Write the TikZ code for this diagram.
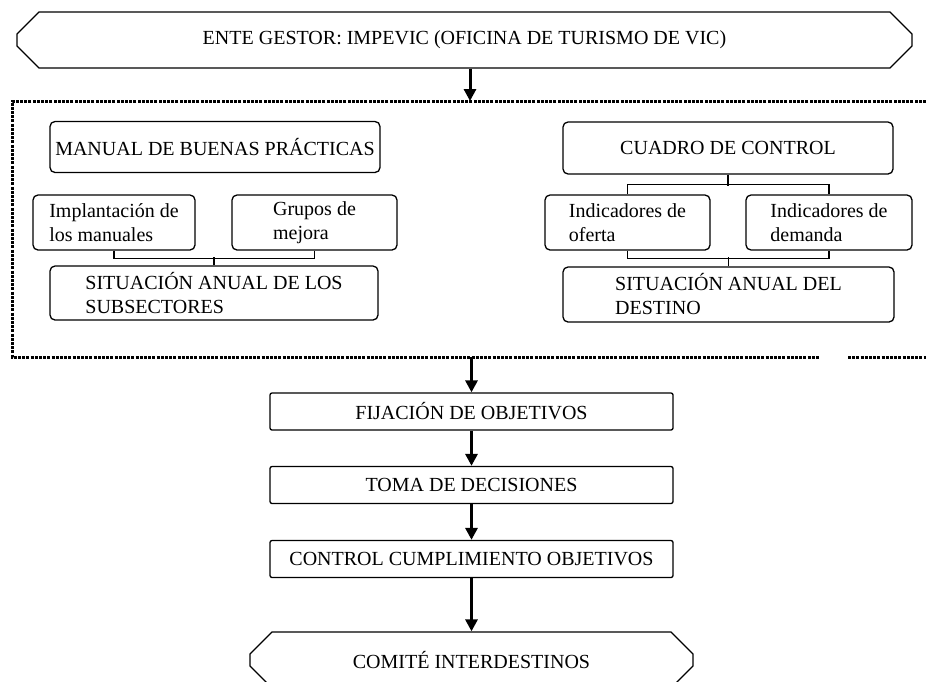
\documentclass[tikz,border=0pt]{standalone}
\usepackage{fontspec}
\setmainfont{Liberation Serif}
\usetikzlibrary{arrows.meta,shapes.misc}

\begin{document}
\begin{tikzpicture}[x=1pt,y=-1pt,
  box/.style={draw,rounded corners=5pt,line width=1.3pt,inner sep=0pt,
    align=left,font=\fontsize{20}{24}\selectfont},
  cut box/.style={draw,chamfered rectangle,chamfered rectangle xsep=7pt,
    chamfered rectangle ysep=15pt,line width=1.3pt,inner sep=0pt,
    font=\fontsize{20}{24}\selectfont},
  arr/.style={-{Triangle[width=12pt,length=12pt]},line width=3pt},
  frame/.style={line width=3pt,dash pattern=on 3pt off 1.2pt},
  link/.style={line width=1.3pt}]

  \clip (0,0) rectangle (926,681);

  \node[cut box,minimum width=895pt,minimum height=56pt] (gestor) at (464.5,40)
    {ENTE GESTOR: IMPEVIC (OFICINA DE TURISMO DE VIC)};

  % left block
  \node[box,minimum width=330pt,minimum height=51pt] (manual) at (215,147) {MANUAL DE BUENAS PRÁCTICAS};
  \node[box,minimum width=162pt,minimum height=55pt] (implant) at (114,222.5) {Implantación de\\los manuales};
  \node[box,minimum width=165pt,minimum height=55pt] (grupos) at (314.5,222.5) {Grupos de\\mejora};
  \node[box,minimum width=328pt,minimum height=54pt] (sitsub) at (214,293) {SITUACIÓN ANUAL DE LOS\\SUBSECTORES};

  % right block
  \node[box,minimum width=330pt,minimum height=52pt] (cuadro) at (728,148) {CUADRO DE CONTROL};
  \node[box,minimum width=165pt,minimum height=55pt] (ofer) at (627.5,222.5) {Indicadores de\\oferta};
  \node[box,minimum width=166pt,minimum height=55pt] (demand) at (829,222.5) {Indicadores de\\demanda};
  \node[box,minimum width=331pt,minimum height=55pt] (sitdest) at (728.5,294.5) {SITUACIÓN ANUAL DEL\\DESTINO};

  % lower chain
  \node[box,rounded corners=2pt,minimum width=403pt,minimum height=37pt] (fijacion) at (471.5,411.5) {FIJACIÓN DE OBJETIVOS};
  \node[box,rounded corners=2pt,minimum width=403pt,minimum height=37pt] (toma) at (471.5,485) {TOMA DE DECISIONES};
  \node[box,rounded corners=2pt,minimum width=403pt,minimum height=37pt] (ctrl) at (471.5,559) {CONTROL CUMPLIMIENTO OBJETIVOS};
  \node[cut box,minimum width=443pt,minimum height=56pt] (comite) at (471.5,660) {COMITÉ INTERDESTINOS};

  \coordinate (frametop) at (470,101);
  \coordinate (framebot) at (471.5,357);
  \draw[frame] (926,101) -- (12,101) -- (12,357) -- (820,357);
  \draw[frame] (848,357) -- (926,357);

  \draw[link] (implant.south) -- ++(0,8) -| (grupos.south);
  \draw[link] (sitsub.north) -- ++(0,-8);
  \draw[link] (cuadro.south) -- ++(0,11);
  \draw[link] (ofer.north) -- ++(0,-10) -| (demand.north);
  \draw[link] (ofer.south) -- ++(0,8) -| (demand.south);
  \draw[link] (sitdest.north) -- ++(0,-9);

  \draw[arr] (frametop |- gestor.south) -- (frametop);
  \draw[arr] (framebot) -- (fijacion);
  \draw[arr] (fijacion) -- (toma);
  \draw[arr] (toma) -- (ctrl);
  \draw[arr] (ctrl) -- (comite);
\end{tikzpicture}
\end{document}
